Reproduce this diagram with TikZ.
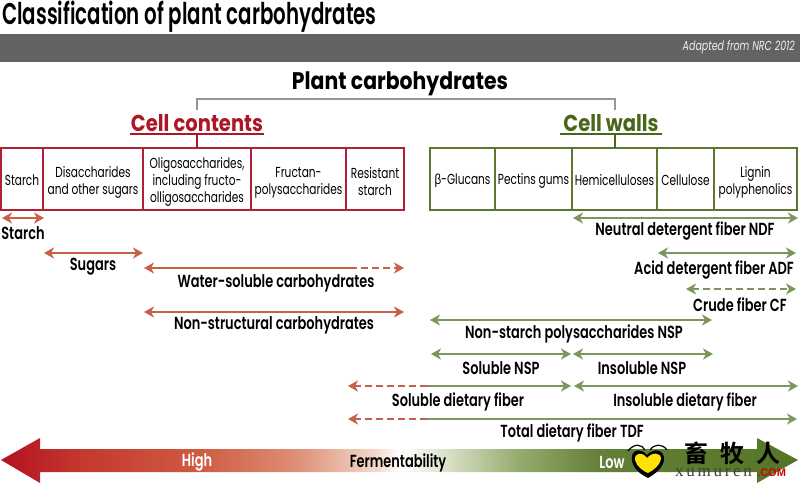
\documentclass[tikz,border=0pt]{standalone}
\usepackage{fontspec}
\setmainfont[FakeStretch=0.73]{Poppins}
\newfontfamily\medfont[FakeStretch=0.74]{Poppins SemiBold}
\newfontfamily\titlefont[FakeStretch=0.66]{Poppins SemiBold}
\newfontfamily\headfont[FakeStretch=0.85]{Poppins Bold}
\newfontfamily\greekfont[FakeStretch=0.8]{Liberation Sans}
\newfontfamily\cjkmark{Noto Sans CJK SC Bold}
\newfontfamily\markfont[LetterSpace=16]{Liberation Serif}
\newfontfamily\comfont{Liberation Sans}
\usepackage{xcolor}
\usetikzlibrary{arrows.meta, positioning}
\definecolor{boxred}{RGB}{178,32,52}
\definecolor{headred}{RGB}{172,22,38}
\definecolor{linkred}{RGB}{200,96,72}
\definecolor{boxgreen}{RGB}{92,120,48}
\definecolor{headgreen}{RGB}{74,102,24}
\definecolor{linkgreen}{RGB}{124,150,92}
\definecolor{band}{RGB}{99,99,99}
\definecolor{linkgray}{RGB}{150,150,150}
\newcommand{\celltop}{\rule{0pt}{17pt}}
\pgfdeclarehorizontalshading{redfade}{100bp}{
  rgb(0bp)=(0.70,0.07,0.13); rgb(25bp)=(0.70,0.07,0.13); rgb(35bp)=(0.77,0.22,0.18);
  rgb(50bp)=(0.81,0.36,0.26); rgb(62bp)=(0.87,0.56,0.46); rgb(72bp)=(0.95,0.85,0.80);
  rgb(75bp)=(1,1,1); rgb(100bp)=(1,1,1)}
\pgfdeclarehorizontalshading{greenfade}{100bp}{
  rgb(0bp)=(1,1,1); rgb(25bp)=(1,1,1); rgb(31bp)=(0.85,0.88,0.78); rgb(40bp)=(0.58,0.67,0.43);
  rgb(50bp)=(0.39,0.50,0.22); rgb(75bp)=(0.33,0.46,0.15); rgb(100bp)=(0.33,0.46,0.15)}

\begin{document}
\begin{tikzpicture}[
  x=1pt, y=-1pt,
  node distance = 0pt,
  cell/.style = {draw, line width=1.2pt, outer sep=0pt, inner sep=0pt, align=center, minimum height=62pt, font=\fontsize{14.5}{17}\selectfont},
  redcell/.style = {cell, draw=boxred},
  greencell/.style = {cell, draw=boxgreen},
  head/.style = {inner sep=0pt, outer sep=0pt, minimum height=22pt, font=\headfont\fontsize{23}{23}\selectfont},
  lab/.style = {inner sep=0pt, yshift=-1.5pt, font=\medfont\fontsize{17.5}{19}\selectfont},
  redlink/.style = {line width=2.2pt, draw=linkred},
  greenlink/.style = {line width=2.2pt, draw=linkgreen},
  redarrow/.style = {redlink, {Stealth[length=10pt,width=11pt,inset=3pt]}-{Stealth[length=10pt,width=11pt,inset=3pt]}},
  greenarrow/.style = {greenlink, {Stealth[length=10pt,width=11pt,inset=3pt]}-{Stealth[length=10pt,width=11pt,inset=3pt]}},
  lefttip/.style = {{Stealth[length=10pt,width=11pt,inset=3pt]}-},
  righttip/.style = {-{Stealth[length=10pt,width=11pt,inset=3pt]}},
  dash5/.style = {dash pattern=on 7pt off 4pt}
]
\useasboundingbox (0,0) rectangle (800,484);

% header
\node[anchor=west, inner sep=0pt, font=\titlefont\fontsize{30}{30}\selectfont] (title) at (2,17) {Classification of plant carbohydrates};
\fill[band] (0,34) rectangle (800,62);
\node[anchor=east, inner sep=0pt, text=white!90!band, font=\itshape\fontsize{13}{13}\selectfont] (source) at (795,47) {Adapted from NRC 2012};
\node[inner sep=0pt, font=\headfont\fontsize{24}{24}\selectfont] (plant) at (400,84) {Plant carbohydrates};

% the two groups
\node[head, text=headred, minimum width=134pt] (contents) at (197,123) {Cell contents};
\node[head, text=headgreen, minimum width=102pt] (walls) at (611,123) {Cell walls};
\coordinate (contentstop) at (197,110);
\coordinate (wallstop) at (615,110);
\draw[linkgray, line width=1.6pt] (contentstop) -- ++(0,-11) -| (wallstop);
\draw[headred, line width=2pt] (contents.south west) -- (contents.south east);
\draw[headgreen, line width=2pt] (walls.south west) -- (walls.south east);

% cell contents boxes
\node[redcell, minimum width=42pt, anchor=north west] (starch) at (1,148) {\rule{0pt}{14pt}Starch};
\node[redcell, minimum width=100pt, right=of starch] (sugars) {\celltop Disaccharides\\and other sugars};
\node[redcell, minimum width=108pt, right=of sugars] (oligo) {\celltop Oligosaccharides,\\including fructo-\\olligosaccharides};
\node[redcell, minimum width=95pt, right=of oligo] (fructan) {\celltop Fructan-\\polysaccharides};
\node[redcell, minimum width=58pt, right=of fructan] (resistant) {\celltop Resistant\\starch};

% cell walls boxes
\node[greencell, minimum width=65pt, anchor=north west] (glucans) at (430,148) {\rule{0pt}{14pt}{\greekfont β}-Glucans};
\node[greencell, minimum width=77pt, right=of glucans] (pectins) {\rule{0pt}{14pt}Pectins gums};
\node[greencell, minimum width=85pt, right=of pectins] (hemi) {\rule{0pt}{14pt}Hemicelluloses};
\node[greencell, minimum width=57pt, right=of hemi] (cellulose) {\rule{0pt}{14pt}Cellulose};
\node[greencell, minimum width=83pt, right=of cellulose] (lignin) {\celltop Lignin\\polyphenolics};

\draw[headred, line width=2pt] (contents.south) -- (contents.south |- oligo.north);
\draw[headgreen, line width=2pt] (wallstop |- walls.south) -- (wallstop |- hemi.north);

% arrow ends
\coordinate (a1) at (2,218);    \coordinate (b1) at (44,218);
\coordinate (a2) at (44,253);   \coordinate (b2) at (143,253);
\coordinate (a3) at (144,268);  \coordinate (m3) at (350,268);  \coordinate (b3) at (404,268);
\coordinate (a4) at (144,312);  \coordinate (b4) at (404,312);
\coordinate (a5) at (573,218);  \coordinate (b5) at (798,218);
\coordinate (a6) at (658,253);  \coordinate (b6) at (796,253);
\coordinate (a7) at (686,289);  \coordinate (b7) at (796,289);
\coordinate (a8) at (430,320);  \coordinate (b8) at (712,320);
\coordinate (a9) at (431,354);  \coordinate (b9) at (571,354);
\coordinate (a10) at (573,354); \coordinate (b10) at (713,354);
\coordinate (a11) at (348,386); \coordinate (m11) at (427,386); \coordinate (b11) at (571,386);
\coordinate (a12) at (574,386); \coordinate (b12) at (798,386);
\coordinate (a13) at (348,419); \coordinate (m13) at (427,419); \coordinate (b13) at (797,419);

% red ranges
\draw[redarrow] (a1) -- (b1);
\draw[redarrow] (a2) -- (b2);
\draw[redlink, lefttip] (a3) -- (m3);
\draw[redlink, righttip, dash5] (m3) -- (b3);
\draw[redarrow] (a4) -- (b4);

% green ranges
\draw[greenarrow] (a5) -- (b5);
\draw[greenarrow] (a6) -- (b6);
\draw[greenarrow, dash5] (a7) -- (b7);
\draw[greenarrow] (a8) -- (b8);
\draw[greenarrow] (a9) -- (b9);
\draw[greenarrow] (a10) -- (b10);
\draw[redlink, lefttip, dash5] (a11) -- (m11);
\draw[greenlink, righttip] (m11) -- (b11);
\draw[greenarrow] (a12) -- (b12);
\draw[redlink, lefttip, dash5] (a13) -- (m13);
\draw[greenlink, righttip] (m13) -- (b13);

% range labels
\node[lab] (l1) at (23,232) {Starch};
\node[lab] (l2) at (93,265) {Sugars};
\node[lab] (l3) at (276,282) {Water-soluble carbohydrates};
\node[lab] (l4) at (274,324) {Non-structural carbohydrates};
\node[lab] (l5) at (685,230) {Neutral detergent fiber NDF};
\node[lab] (l6) at (714,269) {Acid detergent fiber ADF};
\node[lab] (l7) at (740,303) {Crude fiber CF};
\node[lab] (l8) at (574,332) {Non-starch polysaccharides NSP};
\node[lab] (l9) at (501,367) {Soluble NSP};
\node[lab] (l10) at (642,367) {Insoluble NSP};
\node[lab] (l11) at (458,400) {Soluble dietary fiber};
\node[lab] (l12) at (685,400) {Insoluble dietary fiber};
\node[lab] (l13) at (572,431) {Total dietary fiber TDF};

% fermentability bar
\path[shading=redfade] (1,460) -- (40,438) -- (40,449) -- (400,449) -- (400,472) -- (40,472) -- (40,483) -- cycle;
\path[shading=greenfade] (400,449) -- (757,449) -- (757,438) -- (798,460) -- (757,483) -- (757,472) -- (400,472) -- cycle;
\node[lab, text=white] (high) at (197,461) {High};
\node[lab] (ferment) at (398,461) {Fermentability};
\node[lab, text=white] (low) at (612,461) {Low};

% site mark
\fill[black] (647,455) .. controls (640,447) and (630,450) .. (632,461) .. controls (634,470) and (642,475) .. (648,478) .. controls (655,474) and (663,468) .. (664,460) .. controls (665,450) and (654,447) .. (647,455);
\fill[yellow!85!orange] (647,458) .. controls (642,451) and (634,453) .. (635,460) .. controls (637,467) and (643,471) .. (648,473) .. controls (654,470) and (660,465) .. (661,459) .. controls (661,452) and (652,452) .. (647,458);
\draw[black, line width=1.2pt] (628,451) .. controls (634,443) and (642,444) .. (645,450);
\draw[black, line width=1.2pt] (650,450) .. controls (654,444) and (662,443) .. (667,450);
\node[inner sep=0pt, font=\cjkmark\fontsize{24}{24}\selectfont] (markcn) at (732,453) {畜\hspace{12pt}牧\hspace{12pt}人};
\node[inner sep=0pt, anchor=west, text=black!75, font=\markfont\fontsize{17}{17}\selectfont] (markxu) at (675,473) {xumuren};
\node[inner sep=0pt, anchor=west, text=red!80!black, font=\comfont\bfseries\fontsize{11}{11}\selectfont] (markcom) at (757,473) {.COM};
\end{tikzpicture}
\end{document}
